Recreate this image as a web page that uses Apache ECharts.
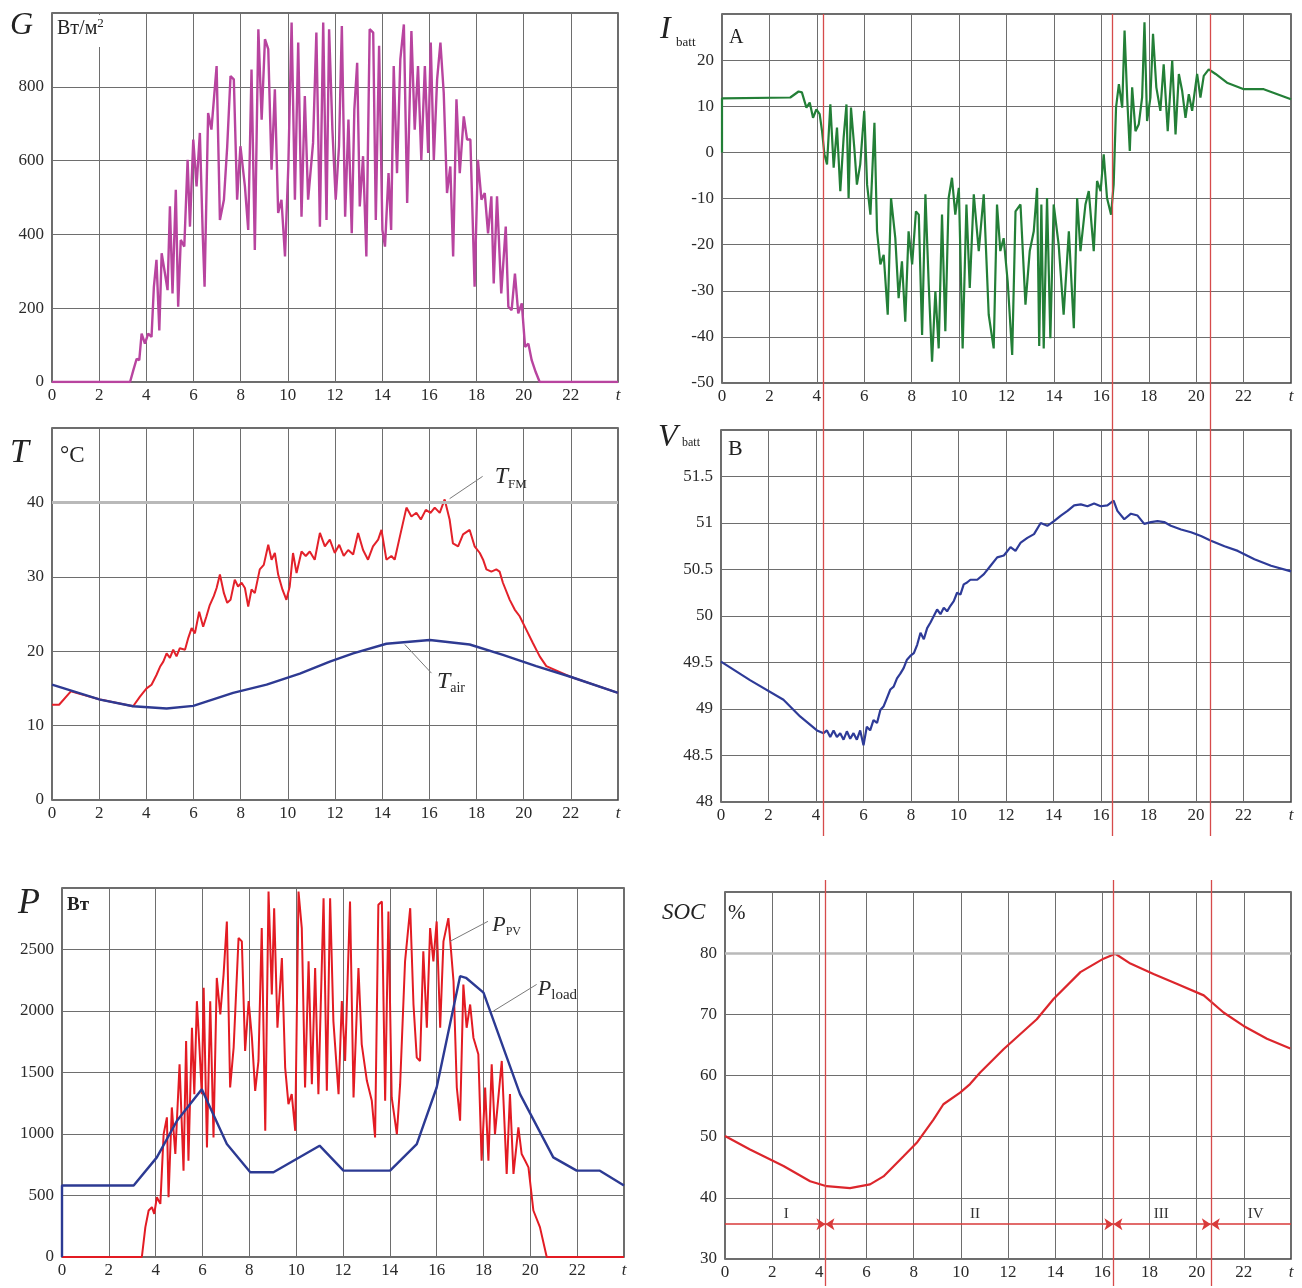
<!DOCTYPE html>
<html>
<head>
<meta charset="utf-8">
<script src="https://cdn.jsdelivr.net/npm/echarts@6/dist/echarts.min.js"></script>
<style>
html,body{margin:0;padding:0;background:#fff;}
#c{width:1302px;height:1288px;}
</style>
</head>
<body>
<div id="c"></div>
<script>
// ---------------- DATA (time in hours) ----------------
const G_DATA = [[0,0],[3.31,0],[3.45,32],[3.59,63],[3.70,59],[3.80,131],[3.94,104],[4.08,131],[4.22,122],[4.32,258],[4.43,331],[4.55,140],[4.65,349],[4.79,294],[4.90,249],[5.00,476],[5.11,240],[5.25,521],[5.35,204],[5.46,385],[5.61,367],[5.75,602],[5.85,421],[5.99,657],[6.13,530],[6.27,675],[6.39,403],[6.47,258],[6.62,729],[6.76,684],[6.98,856],[7.12,439],[7.29,494],[7.43,639],[7.57,829],[7.71,820],[7.85,494],[7.99,639],[8.18,530],[8.32,412],[8.46,847],[8.60,358],[8.75,956],[8.89,711],[9.03,929],[9.17,902],[9.31,575],[9.45,793],[9.59,458],[9.73,494],[9.88,340],[10.02,584],[10.16,974],[10.30,494],[10.44,920],[10.58,448],[10.72,775],[10.86,494],[11.07,648],[11.21,947],[11.36,421],[11.50,974],[11.64,439],[11.75,956],[11.89,684],[12.03,494],[12.17,639],[12.29,965],[12.43,448],[12.57,711],[12.71,403],[12.82,738],[12.94,865],[13.05,476],[13.19,612],[13.33,340],[13.47,956],[13.62,947],[13.73,439],[13.87,911],[14.01,412],[14.12,367],[14.27,566],[14.38,412],[14.49,856],[14.63,566],[14.77,874],[14.92,969],[15.06,485],[15.24,951],[15.38,684],[15.52,856],[15.66,602],[15.81,856],[15.95,621],[16.06,920],[16.19,602],[16.33,820],[16.47,920],[16.61,784],[16.75,512],[16.89,584],[17.01,340],[17.15,766],[17.29,566],[17.46,720],[17.60,657],[17.74,657],[17.92,258],[18.06,602],[18.21,494],[18.35,512],[18.49,403],[18.63,503],[18.73,267],[18.87,503],[19.05,240],[19.24,421],[19.35,204],[19.49,195],[19.63,294],[19.77,186],[19.92,213],[20.06,95],[20.20,104],[20.34,59],[20.51,27],[20.68,0],[24,0]];

const IBATT_DATA = [[0,0],[0,11.7],[2.88,11.9],[3.23,13.2],[3.37,13.0],[3.56,9.7],[3.70,10.8],[3.84,7.5],[3.98,9.3],[4.12,8.3],[4.22,4.6],[4.32,-0.4],[4.43,-2.6],[4.57,10.4],[4.71,-3.3],[4.85,5.4],[4.99,-8.4],[5.13,3.2],[5.25,10.4],[5.34,-9.9],[5.44,9.7],[5.58,1.0],[5.69,-7.0],[5.83,-2.6],[6.00,9.0],[6.12,-7.0],[6.26,-13.5],[6.43,6.4],[6.54,-17.1],[6.68,-24.3],[6.82,-22.2],[6.99,-35.2],[7.13,-9.9],[7.31,-18.6],[7.45,-31.6],[7.59,-23.6],[7.73,-36.7],[7.87,-17.1],[8.02,-24.3],[8.18,-12.8],[8.30,-13.5],[8.44,-39.6],[8.58,-9.1],[8.72,-28.7],[8.86,-45.4],[9.00,-30.1],[9.14,-42.5],[9.28,-13.5],[9.42,-38.8],[9.56,-9.9],[9.70,-5.5],[9.84,-13.5],[9.99,-7.7],[10.15,-42.5],[10.31,-11.3],[10.45,-29.4],[10.62,-9.1],[10.83,-21.4],[11.04,-9.1],[11.25,-35.2],[11.46,-42.5],[11.60,-11.3],[11.74,-21.4],[11.88,-18.6],[12.05,-28.0],[12.24,-43.9],[12.38,-12.8],[12.59,-11.3],[12.80,-33.0],[12.98,-21.4],[13.15,-17.1],[13.29,-7.7],[13.38,-42.0],[13.47,-11.3],[13.57,-42.5],[13.71,-9.9],[13.85,-40.3],[13.99,-11.3],[14.20,-20.0],[14.41,-35.2],[14.63,-17.1],[14.84,-38.1],[14.98,-9.9],[15.12,-21.4],[15.33,-11.3],[15.47,-8.4],[15.68,-21.4],[15.82,-6.2],[15.97,-8.4],[16.10,-0.4],[16.24,-9.9],[16.41,-13.5],[16.52,-7.0],[16.62,9.7],[16.74,14.8],[16.88,9.7],[16.98,26.4],[17.09,11.9],[17.20,0.3],[17.30,14.1],[17.44,4.6],[17.58,6.1],[17.72,11.9],[17.82,28.2],[17.93,6.8],[18.07,11.9],[18.18,25.7],[18.32,14.1],[18.49,9.0],[18.63,19.1],[18.80,4.6],[18.99,19.9],[19.13,3.9],[19.27,17.0],[19.41,13.3],[19.55,7.5],[19.69,12.6],[19.83,9.0],[20.04,17.0],[20.18,11.9],[20.32,16.6],[20.53,18.0],[20.82,17.0],[21.30,15.1],[22.01,13.7],[22.85,13.7],[24,11.5]];

const TFM_DATA = [[0,12.8],[0.3,12.8],[0.8,14.6],[2.04,13.5],[3.44,12.6],[3.73,13.9],[4.01,15.0],[4.22,15.5],[4.43,16.8],[4.58,17.9],[4.72,18.6],[4.86,19.7],[5.00,19.1],[5.14,20.2],[5.28,19.3],[5.42,20.4],[5.64,20.2],[5.78,21.8],[5.92,23.1],[6.06,22.4],[6.24,25.3],[6.41,23.3],[6.55,24.7],[6.69,26.2],[6.86,27.4],[6.98,28.5],[7.12,30.3],[7.29,27.8],[7.43,26.5],[7.57,26.9],[7.75,29.6],[7.89,28.7],[8.04,29.2],[8.18,28.5],[8.32,26.0],[8.46,28.3],[8.60,27.8],[8.81,31.0],[8.98,31.6],[9.17,34.3],[9.31,32.3],[9.45,33.2],[9.59,30.3],[9.77,28.3],[9.94,26.9],[10.08,28.7],[10.22,33.2],[10.37,30.5],[10.58,33.4],[10.76,32.8],[10.93,33.4],[11.14,32.3],[11.36,35.9],[11.57,34.1],[11.78,35.0],[11.99,33.2],[12.18,34.3],[12.37,32.8],[12.56,33.6],[12.77,33.0],[12.98,35.9],[13.19,33.6],[13.40,32.3],[13.61,34.1],[13.83,35.0],[13.97,36.3],[14.18,32.3],[14.39,32.8],[14.53,32.3],[14.75,35.4],[15.03,39.3],[15.24,38.1],[15.45,38.6],[15.64,37.7],[15.85,39.0],[16.05,38.6],[16.23,39.3],[16.44,38.6],[16.65,40.4],[16.86,37.7],[17.00,34.5],[17.22,34.1],[17.43,35.7],[17.71,36.3],[17.92,34.1],[18.14,33.2],[18.28,32.3],[18.42,31.0],[18.63,30.7],[18.84,31.0],[18.98,30.7],[19.12,29.2],[19.41,26.9],[19.62,25.6],[19.83,24.7],[20.11,22.9],[20.39,21.1],[20.68,19.3],[20.96,18.0],[21.95,16.6],[24,14.4]];

const TAIR_DATA = [[0,15.5],[2.04,13.5],[3.44,12.6],[4.86,12.3],[5.99,12.65],[7.68,14.4],[9.10,15.5],[10.51,17.0],[11.78,18.6],[12.77,19.7],[14.18,21.0],[16.02,21.5],[17.71,20.9],[19.12,19.5],[20.53,18.0],[21.95,16.6],[24,14.4]];

const VBATT_DATA = [[0,49.51],[1.22,49.31],[2.63,49.10],[3.33,48.92],[4.04,48.77],[4.32,48.74],[4.46,48.77],[4.60,48.70],[4.74,48.77],[4.88,48.70],[5.02,48.74],[5.16,48.67],[5.30,48.76],[5.44,48.68],[5.58,48.74],[5.72,48.67],[5.86,48.77],[6.00,48.61],[6.14,48.81],[6.28,48.77],[6.42,48.88],[6.57,48.85],[6.71,48.99],[6.85,49.03],[6.99,49.12],[7.13,49.21],[7.27,49.24],[7.41,49.33],[7.55,49.38],[7.69,49.44],[7.83,49.53],[7.97,49.57],[8.12,49.60],[8.26,49.69],[8.40,49.82],[8.54,49.75],[8.68,49.87],[8.82,49.93],[8.96,50.00],[9.10,50.07],[9.24,50.02],[9.38,50.09],[9.52,50.05],[9.66,50.11],[9.80,50.16],[9.94,50.25],[10.08,50.23],[10.22,50.34],[10.36,50.36],[10.50,50.39],[10.79,50.39],[11.07,50.45],[11.35,50.54],[11.63,50.63],[11.91,50.65],[12.19,50.74],[12.40,50.70],[12.62,50.79],[12.90,50.84],[13.18,50.88],[13.46,51.00],[13.74,50.97],[14.02,51.02],[14.31,51.08],[14.59,51.13],[14.87,51.19],[15.15,51.20],[15.43,51.18],[15.71,51.21],[15.99,51.18],[16.27,51.19],[16.53,51.24],[16.69,51.13],[16.98,51.04],[17.26,51.10],[17.54,51.08],[17.82,50.99],[18.10,51.01],[18.38,51.02],[18.66,51.01],[18.94,50.97],[19.37,50.93],[19.79,50.90],[20.21,50.86],[20.63,50.81],[21.20,50.75],[21.76,50.70],[22.46,50.61],[23.16,50.54],[24,50.48]];

const PPV_DATA = [[0,0],[3.41,0],[3.56,243],[3.70,378],[3.84,405],[3.94,351],[4.05,486],[4.20,432],[4.34,999],[4.48,1135],[4.55,486],[4.69,1216],[4.84,837],[5.02,1567],[5.19,702],[5.30,1756],[5.40,783],[5.55,1864],[5.65,1324],[5.76,2080],[5.87,1702],[5.97,1324],[6.05,2188],[6.19,891],[6.33,2080],[6.47,972],[6.61,2269],[6.76,1972],[6.90,2296],[7.04,2728],[7.18,1378],[7.33,1702],[7.54,2593],[7.68,2566],[7.82,1675],[7.97,2080],[8.11,1783],[8.25,1351],[8.39,1594],[8.53,2674],[8.68,1026],[8.82,2971],[8.96,2134],[9.06,2836],[9.20,1864],[9.39,2431],[9.53,1540],[9.67,1243],[9.81,1324],[9.96,1026],[10.10,2971],[10.24,2674],[10.38,1378],[10.53,2404],[10.67,1405],[10.81,2350],[10.95,1324],[11.17,2917],[11.31,1351],[11.45,2917],[11.59,1918],[11.81,1324],[11.95,2080],[12.09,1594],[12.30,2890],[12.45,1297],[12.66,2350],[12.80,1729],[13.02,1432],[13.23,1270],[13.37,972],[13.51,2863],[13.66,2890],[13.80,1270],[13.94,2809],[14.08,1297],[14.30,999],[14.44,1405],[14.65,2404],[14.87,2836],[15.01,2053],[15.15,1621],[15.29,1594],[15.43,2485],[15.58,1864],[15.72,2674],[15.86,2404],[16.00,2728],[16.15,1864],[16.29,2566],[16.50,2755],[16.72,2242],[16.86,1378],[17.00,1108],[17.14,2215],[17.28,1864],[17.43,2053],[17.57,1783],[17.78,1648],[17.92,783],[18.07,1378],[18.21,783],[18.35,1567],[18.49,999],[18.78,1594],[18.99,675],[19.13,1324],[19.28,675],[19.49,1054],[19.63,837],[19.78,783],[19.92,729],[20.13,378],[20.41,243],[20.70,0],[24,0]];

const PLOAD_DATA = [[0,0],[0,581],[3.06,581],[4.05,810],[4.91,1108],[5.97,1364],[7.04,918],[8.04,689],[9.03,689],[11.0,905],[12.02,702],[14.01,702],[15.15,918],[16.0,1378],[17.0,2283],[17.25,2270],[18.0,2150],[19.56,1324],[20.98,810],[21.98,702],[22.97,702],[24,581]];

const SOC_DATA = [[0,50.1],[1.06,47.9],[2.48,45.2],[3.61,42.7],[4.31,41.9],[5.30,41.6],[6.15,42.2],[6.72,43.5],[7.57,46.8],[8.13,49.0],[8.84,52.8],[9.26,55.3],[9.97,57.2],[10.39,58.6],[10.82,60.5],[11.81,64.3],[13.22,69.2],[13.93,72.5],[15.07,76.9],[16.05,79.1],[16.55,79.9],[17.19,78.3],[18.17,76.6],[19.15,75.0],[20.30,73.1],[21.14,70.3],[21.99,68.1],[22.98,66.0],[23.97,64.4]];

const PHASE_BOUNDS = [4.26, 16.47, 20.6];
const PHASE_NAMES = ['I', 'II', 'III', 'IV'];
const PHASE_LABEL_T = [2.6, 10.6, 18.5, 22.5];
const PHASE_ARROW_LEVEL = 35.7;
const PHASE_LABEL_LEVEL = 37.4;

// ---------------- CHART ----------------
const FONT = '"Liberation Serif", "DejaVu Serif", "Times New Roman", serif';
const GRID_COLOR = '#6e6e6e';
const TXT = '#2a2a2a';

function xAx(gi, show) {
  return {
    type: 'value', gridIndex: gi, min: 0, max: 24, interval: 2, show: show,
    axisLine: {show: false}, axisTick: {show: false},
    axisLabel: {
      show: show, color: TXT, fontFamily: FONT, fontSize: 17, margin: 5,
      formatter: v => v === 24 ? '{t|t}' : String(v),
      rich: {t: {fontFamily: FONT, fontStyle: 'italic', fontSize: 17, color: TXT}}
    },
    splitLine: {show: show, lineStyle: {color: GRID_COLOR, width: 1}}
  };
}
function yAx(gi, min, max, interval, show, fmt) {
  return {
    type: 'value', gridIndex: gi, min: min, max: max, interval: interval, show: show,
    axisLine: {show: false}, axisTick: {show: false},
    axisLabel: {show: show, showMaxLabel: false, color: TXT, fontFamily: FONT, fontSize: 17, margin: 8,
      formatter: fmt || (v => String(v))},
    splitLine: {show: show, lineStyle: {color: GRID_COLOR, width: 1}}
  };
}
const gridBase = {show: true, borderColor: '#3c3c3c', borderWidth: 1.5, backgroundColor: '#fff', containLabel: false};

function lineSeries(data, xi, color, width, extra) {
  return Object.assign({
    type: 'line', xAxisIndex: xi, yAxisIndex: xi, data: data,
    showSymbol: false, symbol: 'none', animation: false, clip: true,
    lineStyle: {color: color, width: width}, itemStyle: {color: color}
  }, extra || {});
}
const leader = (a, b) => [{coord: a}, {coord: b}];
function labelPoint(coord, formatter, rich, position) {
  return {
    coord: coord, symbol: 'rect', symbolSize: 1, itemStyle: {color: 'rgba(0,0,0,0)'},
    label: {show: true, position: position || 'right', distance: 0, formatter: formatter, rich: rich}
  };
}
const subRich = (mainSize, subSize) => ({
  m: {fontFamily: FONT, fontStyle: 'italic', fontSize: mainSize, color: TXT, lineHeight: mainSize + 4},
  s: {fontFamily: FONT, fontSize: subSize, color: TXT, lineHeight: subSize + 2, verticalAlign: 'bottom'}
});

const vlineData = PHASE_BOUNDS.map(t => ({xAxis: t}));
const arrowSegs = [];
const segEdges = [0].concat(PHASE_BOUNDS, [24]);
for (let i = 0; i < segEdges.length - 1; i++) {
  arrowSegs.push([
    {coord: [segEdges[i], PHASE_ARROW_LEVEL], symbol: i === 0 ? 'none' : 'arrow'},
    {coord: [segEdges[i + 1], PHASE_ARROW_LEVEL], symbol: i === segEdges.length - 2 ? 'none' : 'arrow'}
  ]);
}
const phaseLabels = PHASE_NAMES.map((n, i) => ({
  coord: [PHASE_LABEL_T[i], PHASE_LABEL_LEVEL], symbol: 'rect', symbolSize: 1,
  itemStyle: {color: 'rgba(0,0,0,0)'},
  label: {show: true, position: 'inside', formatter: n, fontFamily: FONT, fontSize: 15, color: '#333'}
}));

const option = {
  backgroundColor: '#fff',
  animation: false,
  grid: [
    Object.assign({left: 52, top: 13, width: 566, height: 369}, gridBase),
    Object.assign({left: 722, top: 14, width: 569, height: 369}, gridBase),
    Object.assign({left: 52, top: 428, width: 566, height: 372}, gridBase),
    Object.assign({left: 721, top: 430, width: 570, height: 372}, gridBase),
    Object.assign({left: 62, top: 888, width: 562, height: 369}, gridBase),
    Object.assign({left: 725, top: 892, width: 566, height: 367}, gridBase),
    {left: 722, top: 14, width: 569, height: 822, show: false},
    {left: 725, top: 880, width: 566, height: 406, show: false}
  ],
  xAxis: [xAx(0, true), xAx(1, true), xAx(2, true), xAx(3, true), xAx(4, true), xAx(5, true), xAx(6, false), xAx(7, false)],
  yAxis: [
    yAx(0, 0, 1000, 200, true),
    yAx(1, -50, 30, 10, true),
    yAx(2, 0, 50, 10, true),
    yAx(3, 48, 52, 0.5, true),
    yAx(4, 0, 3000, 500, true),
    yAx(5, 30, 90, 10, true),
    yAx(6, 0, 1, 1, false),
    yAx(7, 0, 1, 1, false)
  ],
  series: [
    lineSeries(G_DATA, 0, '#b8449f', 2.4),
    lineSeries(IBATT_DATA, 1, '#237f37', 2.2),
    // helper: emphasised 40 degC line
    lineSeries([], 2, '#fff', 0, {z: 1, markLine: {silent: true, symbol: 'none', animation: false, label: {show: false},
      lineStyle: {color: '#b9b9b9', width: 3, type: 'solid'}, data: [{yAxis: 40}]}}),
    lineSeries(TFM_DATA, 2, '#e3212a', 2, {
      markLine: {silent: true, symbol: 'none', animation: false, label: {show: false},
        lineStyle: {color: '#7a7a7a', width: 1, type: 'solid'},
        data: [leader([16.86, 40.5], [18.26, 43.5])]},
      markPoint: {silent: true, animation: false, data: [labelPoint([18.75, 43.4], '{m|T}{s|FM}', subRich(24, 13))]}
    }),
    lineSeries(TAIR_DATA, 2, '#2e3a92', 2.4, {
      markLine: {silent: true, symbol: 'none', animation: false, label: {show: false},
        lineStyle: {color: '#7a7a7a', width: 1, type: 'solid'},
        data: [leader([14.96, 20.9], [16.09, 17.05])]},
      markPoint: {silent: true, animation: false, data: [labelPoint([16.3, 15.9], '{m|T}{s|air}', subRich(24, 14))]}
    }),
    lineSeries(VBATT_DATA, 3, '#2e3b98', 2.2),
    lineSeries(PPV_DATA, 4, '#e31b23', 2, {
      markLine: {silent: true, symbol: 'none', animation: false, label: {show: false},
        lineStyle: {color: '#7a7a7a', width: 1, type: 'solid'},
        data: [leader([16.57, 2566], [18.19, 2729])]},
      markPoint: {silent: true, animation: false, data: [labelPoint([18.35, 2700], '{m|P}{s|PV}', subRich(22, 12))]}
    }),
    lineSeries(PLOAD_DATA, 4, '#2c3a93', 2.4, {
      markLine: {silent: true, symbol: 'none', animation: false, label: {show: false},
        lineStyle: {color: '#7a7a7a', width: 1, type: 'solid'},
        data: [leader([18.42, 1999], [20.27, 2216])]},
      markPoint: {silent: true, animation: false, data: [labelPoint([20.3, 2175], '{m|P}{s|load}', subRich(22, 15))]}
    }),
    // helper: emphasised 80% line
    lineSeries([], 5, '#fff', 0, {z: 1, markLine: {silent: true, symbol: 'none', animation: false, label: {show: false},
      lineStyle: {color: '#b9b9b9', width: 2.5, type: 'solid'}, data: [{yAxis: 80}]}}),
    lineSeries(SOC_DATA, 5, '#dc262c', 2.2, {
      markLine: {silent: true, animation: false, symbolSize: 9, label: {show: false},
        lineStyle: {color: '#d93a3a', width: 1.5, type: 'solid'}, data: arrowSegs},
      markPoint: {silent: true, animation: false, data: phaseLabels}
    }),
    // phase boundaries (vertical red lines spanning the right-hand panels)
    lineSeries([], 6, '#fff', 0, {z: 5, markLine: {silent: true, symbol: 'none', animation: false, label: {show: false},
      lineStyle: {color: '#d64b4b', width: 1.3, type: 'solid'}, data: vlineData}}),
    lineSeries([], 7, '#fff', 0, {z: 5, markLine: {silent: true, symbol: 'none', animation: false, label: {show: false},
      lineStyle: {color: '#d64b4b', width: 1.3, type: 'solid'}, data: vlineData}})
  ],
  graphic: [
    {type: 'text', left: 10, top: 10, z: 10, style: {text: 'G', fontFamily: FONT, fontStyle: 'italic', fontSize: 32, fill: '#222'}},
    {type: 'text', left: 55, top: 15, z: 10, style: {text: '{a|Вт/м}{b|2}', backgroundColor: '#fff', padding: [2, 3, 6, 2],
      rich: {a: {fontFamily: FONT, fontSize: 20, fill: '#222', lineHeight: 24}, b: {fontFamily: FONT, fontSize: 13, fill: '#222', lineHeight: 14, verticalAlign: 'top'}}}},
    {type: 'text', left: 660, top: 14, z: 10, style: {text: 'I', fontFamily: FONT, fontStyle: 'italic', fontSize: 32, fill: '#222'}},
    {type: 'text', left: 676, top: 36, z: 10, style: {text: 'batt', fontFamily: FONT, fontSize: 13, fill: '#222'}},
    {type: 'text', left: 729, top: 28, z: 10, style: {text: 'A', fontFamily: FONT, fontSize: 20, fill: '#222'}},
    {type: 'text', left: 10, top: 436, z: 10, style: {text: 'T', fontFamily: FONT, fontStyle: 'italic', fontSize: 34, fill: '#222'}},
    {type: 'text', left: 60, top: 444, z: 10, style: {text: '°C', fontFamily: FONT, fontSize: 23, fill: '#222'}},
    {type: 'text', left: 658, top: 422, z: 10, style: {text: 'V', fontFamily: FONT, fontStyle: 'italic', fontSize: 32, fill: '#222'}},
    {type: 'text', left: 682, top: 437, z: 10, style: {text: 'batt', fontFamily: FONT, fontSize: 12, fill: '#222'}},
    {type: 'text', left: 728, top: 438, z: 10, style: {text: 'B', fontFamily: FONT, fontSize: 22, fill: '#222'}},
    {type: 'text', left: 18, top: 886, z: 10, style: {text: 'P', fontFamily: FONT, fontStyle: 'italic', fontSize: 36, fill: '#222'}},
    {type: 'text', left: 67, top: 896, z: 10, style: {text: 'Вт', fontFamily: FONT, fontSize: 19, fontWeight: 'bold', fill: '#222'}},
    {type: 'text', left: 662, top: 901, z: 10, style: {text: 'SOC', fontFamily: FONT, fontStyle: 'italic', fontSize: 23, fill: '#222'}},
    {type: 'text', left: 728, top: 903, z: 10, style: {text: '%', fontFamily: FONT, fontSize: 21, fill: '#222'}}
  ]
};

const chart = echarts.init(document.getElementById('c'), null, {renderer: 'canvas'});
chart.setOption(option);
</script>
</body>
</html>
